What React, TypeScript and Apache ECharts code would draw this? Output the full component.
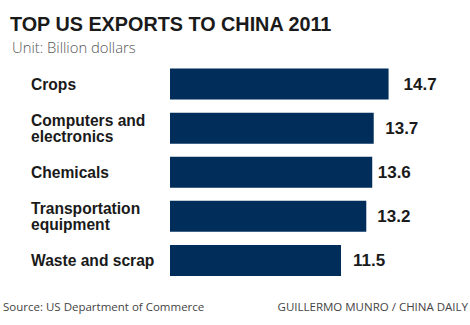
import React, { useEffect, useRef } from "react";
import * as echarts from "echarts";

const categories = [
  "Crops",
  "Computers and\nelectronics",
  "Chemicals",
  "Transportation\nequipment",
  "Waste and scrap",
];
const values = [14.7, 13.7, 13.6, 13.2, 11.5];
const titleText = "TOP US EXPORTS TO CHINA 2011";
const subtitleText = "Unit: Billion dollars";
const sourceText = "Source: US Department of Commerce";
const creditText = "GUILLERMO MUNRO / CHINA DAILY";

// label spacing (styling only)
const labelGaps = [15, 11.5, 5.5, 11, 12];

export default function App() {
  const ref = useRef<HTMLDivElement>(null);
  useEffect(() => {
    if (!ref.current) return;
    const chart = echarts.init(ref.current, null, { renderer: "svg" });
    chart.setOption({
      animation: false,
      backgroundColor: "#ffffff",
      title: [
        {
          text: titleText,
          left: 5,
          top: 9,
          textStyle: {
            fontFamily: "Liberation Sans",
            fontWeight: 900,
            fontSize: 19.8,
            color: "#1a1a1a",
          },
        },
        {
          text: subtitleText,
          left: 7,
          top: 34,
          textStyle: {
            fontFamily: "Open Sans",
            fontWeight: 300,
            fontSize: 14.8,
            color: "#555555",
          },
        },
      ],
      graphic: [
        {
          type: "text",
          left: 3,
          top: 300,
          style: {
            text: sourceText,
            fontFamily: "Open Sans",
            fontSize: 11.5,
            fill: "#444444",
          },
        },
        {
          type: "text",
          right: 2,
          top: 300,
          style: {
            text: creditText,
            fontFamily: "Open Sans",
            fontSize: 11.5,
            fill: "#444444",
          },
        },
      ],
      grid: {
        left: 170,
        top: 62,
        width: 223.05,
        height: 220.5,
        containLabel: false,
      },
      xAxis: {
        type: "value",
        min: 0,
        max: 15,
        show: false,
      },
      yAxis: {
        type: "category",
        data: categories,
        inverse: true,
        axisLine: { show: false },
        axisTick: { show: false },
        axisLabel: {
          align: "left",
          margin: 139,
          fontFamily: "Liberation Sans",
          fontWeight: "bold",
          fontSize: 15.6,
          lineHeight: 16,
          color: "#1a1a1a",
        },
      },
      series: [
        {
          type: "bar",
          data: values.map((v, i) => ({
            value: v,
            label: { distance: labelGaps[i] },
          })),
          barWidth: 31,
          itemStyle: { color: "#012d5a" },
          label: {
            show: true,
            position: "right",
            distance: 11,
            fontFamily: "Liberation Sans",
            fontWeight: "bold",
            fontSize: 17,
            color: "#1a1a1a",
            formatter: (p: any) => Number(p.value).toFixed(1),
          },
        },
      ],
    });
    return () => chart.dispose();
  }, []);
  return (
    <div
      ref={ref}
      style={{ position: "absolute", left: 0, top: 0, width: 470, height: 325 }}
    />
  );
}
